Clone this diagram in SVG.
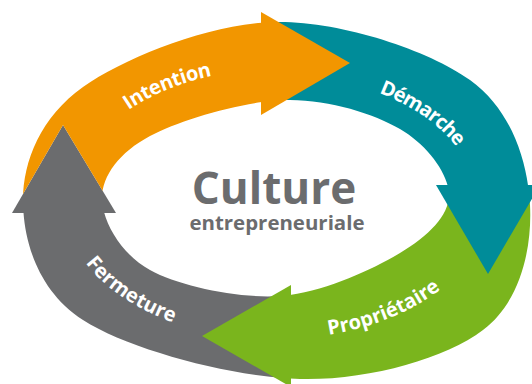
<svg xmlns="http://www.w3.org/2000/svg" width="532" height="384" viewBox="0 0 532 384">
<style>
.lbl{font-family:"Open Sans","Liberation Sans",sans-serif;font-weight:700;font-size:20px;fill:#ffffff}
.ctr{font-family:"Open Sans","Liberation Sans",sans-serif;font-weight:700;fill:#6b6c6e;text-anchor:middle}
.o{fill:#f29600}.t{fill:#008c99}.g{fill:#7ab51d}.k{fill:#6b6c6e}
</style>
<defs>
<path id="ring" fill-rule="evenodd" d="M275,22 C339.5,20.8 427.5,49.5 470,80 C512.5,110.5 527.8,163.3 530,205 C532.2,246.7 521.3,301 483,330 C444.7,359 366.7,380.7 300,379 C233.3,377.3 129.2,349.8 83,320 C36.8,290.2 23,238.8 23,200 C23,161.2 41,116.7 83,87 C125,57.3 210.5,23.2 275,22 Z M285,100 C326.7,98.8 372.7,113.2 400,129 C427.3,144.8 449,174.3 449,195 C449,215.7 428.2,236.2 400,253 C371.8,269.8 321.7,293.2 280,296 C238.3,298.8 179.7,286.3 150,270 C120.3,253.7 102,220.3 102,198 C102,175.7 119.5,152.3 150,136 C180.5,119.7 243.3,101.2 285,100 Z"/>
<clipPath id="cO"><polygon points="-10,-10 262,-10 262,213 116,213 63,125 12,213 -10,213"/></clipPath>
<clipPath id="cT"><rect x="272" y="-10" width="270" height="196"/></clipPath>
<clipPath id="cG"><rect x="290" y="195" width="252" height="200"/></clipPath>
<clipPath id="cK"><rect x="-10" y="212" width="295" height="182"/></clipPath>
<path id="pI" d="M85.6,138.1 A213,139 0 0,1 262.1,60.3"/>
<path id="pD" d="M346.4,67.6 A213,139 0 0,1 486.1,172.5"/>
<path id="pP" d="M290,337.7 A213,139 0 0,0 467.6,261"/>
<path id="pF" d="M68.7,227.9 A213,139 0 0,0 211.2,331.2"/>
</defs>
<g id="fermeture">
<use href="#ring" class="k" clip-path="url(#cK)"/>
<polygon class="k" points="12,213 116,213 63,125"/>
<text class="lbl" dy="2"><textPath href="#pF" startOffset="50%" text-anchor="middle">Fermeture</textPath></text>
</g>
<g id="proprietaire">
<use href="#ring" class="g" clip-path="url(#cG)"/>
<polygon class="g" points="291,285 291,387 202,336"/>
<text class="lbl" dy="1"><textPath href="#pP" startOffset="50%" text-anchor="middle">Propriétaire</textPath></text>
</g>
<g id="demarche">
<use href="#ring" class="t" clip-path="url(#cT)"/>
<polygon class="t" points="436,185 540,185 488,274"/>
<text class="lbl" dy="15"><textPath href="#pD" startOffset="50%" text-anchor="middle">Démarche</textPath></text>
</g>
<g id="intention">
<use href="#ring" class="o" clip-path="url(#cO)"/>
<polygon class="o" points="261,12 261,115 350,63"/>
<text class="lbl" dy="9"><textPath href="#pI" startOffset="50%" text-anchor="middle">Intention</textPath></text>
</g>
<g id="centre">
<text class="ctr" x="274" y="204" font-size="44">Culture</text>
<text class="ctr" x="277" y="230" font-size="20" textLength="175" lengthAdjust="spacingAndGlyphs">entrepreneuriale</text>
</g>
</svg>
